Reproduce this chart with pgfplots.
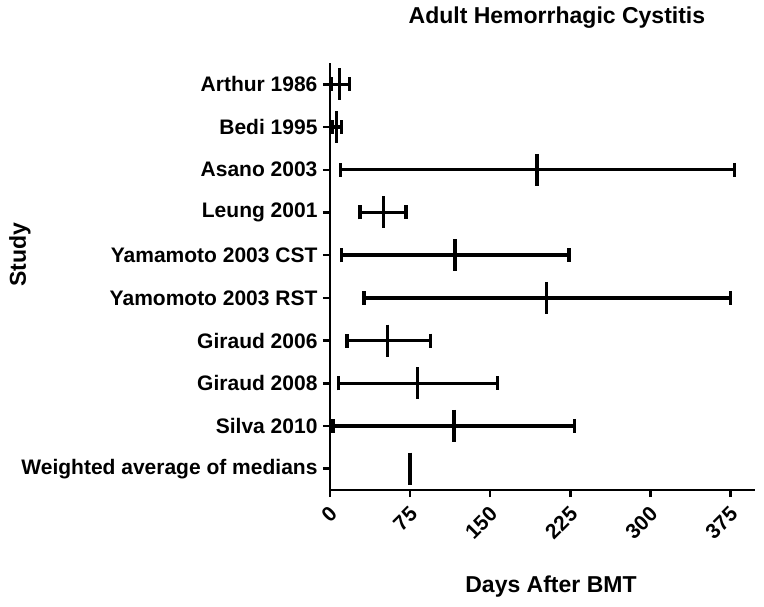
\documentclass[border=0pt]{standalone}
\usepackage{pgfplots}
\usepackage{pgfplotstable}
\pgfplotsset{compat=1.18}
\usepackage{fontspec}
\setmainfont{Liberation Sans}

% y: row position (10 = top); med: median; em/ep: distance to low/high end
\pgfplotstableread{
y  med  em   ep
10 9    8    9
9  6    4    5
8  194  184  185
7  50   22   21
6  117  106  107
5  203  171  172
4  54   38   40
3  82   74   75
2  116  113  113
}\studies
\pgfplotstableread{
y med
1 75
}\weighted

\begin{document}
\begin{tikzpicture}
\begin{axis}[
  scale only axis,
  width=425pt, height=427pt,
  xmin=0, xmax=398, ymin=0.5, ymax=10.5,
  axis x line*=bottom, axis y line*=left,
  axis line style={-, line width=2.5pt, shorten >=0pt, shorten <=0pt},
  xtick={0,75,150,225,300,375},
  ytick={1,2,3,4,5,6,7,8,9,10},
  yticklabels={Weighted average of medians, Silva 2010, Giraud 2008, Giraud 2006, Yamomoto 2003 RST, Yamamoto 2003 CST, Leung 2001, Asano 2003, Bedi 1995, Arthur 1986},
  tick align=outside,
  major tick length=7pt,
  tick style={line width=2.5pt, black},
  /pgf/number format/assume math mode=true,
  tick label style={font=\bfseries\fontsize{21}{25}\selectfont},
  xticklabel style={rotate=45, anchor=east, inner sep=1pt, yshift=-12pt, xshift=-6pt},
  yticklabel style={xshift=-2pt},
  title={Adult Hemorrhagic Cystitis},
  title style={font=\bfseries\fontsize{23}{27}\selectfont, at={(axis description cs:0.534,1)}, anchor=base, yshift=34pt},
  xlabel={Days After BMT},
  xlabel style={font=\bfseries\fontsize{23}{27}\selectfont, at={(axis description cs:0.520,0)}, anchor=base, yshift=-102pt},
  ylabel={Study},
  ylabel style={font=\bfseries\fontsize{23}{27}\selectfont, at={(axis description cs:0,0.5)}, anchor=center, yshift=310pt, xshift=22pt},
  clip=false,
]
\addplot[black, only marks, mark=|, mark size=16pt, mark options={line width=3.4pt},
  error bars/.cd, x dir=both, x explicit, error mark=|,
  error bar style={line width=3.4pt, black},
  error mark options={line width=3.4pt, mark size=7pt, black}]
  table[x=med, y=y, x error plus=ep, x error minus=em] {\studies};
\addplot[black, only marks, mark=|, mark size=16pt, mark options={line width=3.4pt}]
  table[x=med, y=y] {\weighted};
\end{axis}
\pgfresetboundingbox
\path (current axis.south west) ++(-330pt,-116pt) rectangle ++(764pt,606pt);
\end{tikzpicture}
\end{document}
